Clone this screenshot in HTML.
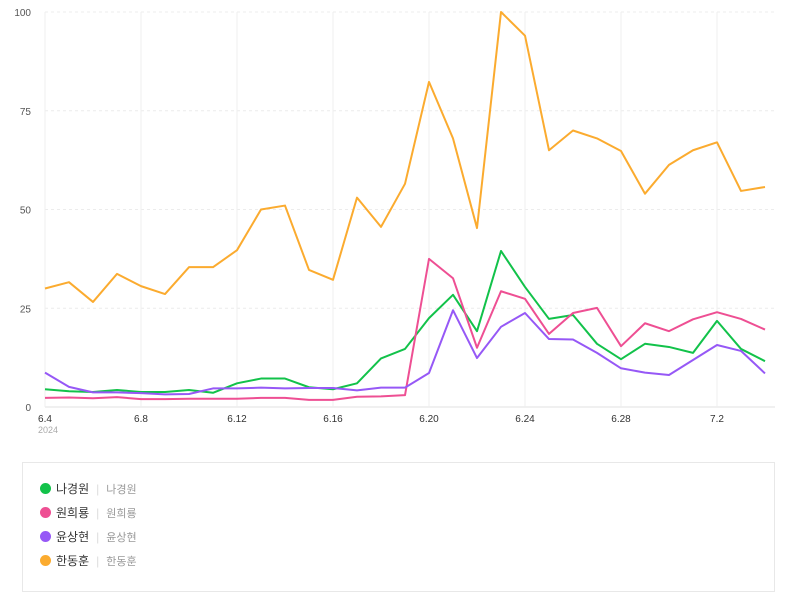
<!DOCTYPE html>
<html><head><meta charset="utf-8"><style>
body{margin:0;width:791px;height:578px;background:#fff;font-family:"Liberation Sans","Noto Sans CJK KR",sans-serif;overflow:hidden;position:relative}
#legend{position:absolute;left:22px;top:462px;width:753px;height:130px;border:1px solid #e8e8e8;box-sizing:border-box}
.le{position:absolute;left:17px;font-size:12px;color:#333;display:flex;align-items:center}
.dot{width:11px;height:11px;border-radius:50%;margin-right:5px}
.sep{color:#ddd;margin:0 7px}
.sub{color:#999;font-size:11px}
</style></head><body>
<svg id="chart" width="791" height="460" style="position:absolute;left:0;top:0"></svg>
<div id="legend">
<div class="le" style="top:17px"><span class="dot" style="background:#12c24a"></span>나경원<span class="sep">|</span><span class="sub">나경원</span></div>
<div class="le" style="top:41px"><span class="dot" style="background:#ee4f93"></span>원희룡<span class="sep">|</span><span class="sub">원희룡</span></div>
<div class="le" style="top:65px"><span class="dot" style="background:#9658f6"></span>윤상현<span class="sep">|</span><span class="sub">윤상현</span></div>
<div class="le" style="top:89px"><span class="dot" style="background:#fbab2f"></span>한동훈<span class="sep">|</span><span class="sub">한동훈</span></div>
</div>
<script>
const categories=["6.4","6.5","6.6","6.7","6.8","6.9","6.10","6.11","6.12","6.13","6.14","6.15","6.16","6.17","6.18","6.19","6.20","6.21","6.22","6.23","6.24","6.25","6.26","6.27","6.28","6.29","6.30","7.1","7.2","7.3","7.4"];
const han=[30,31.6,26.6,33.7,30.6,28.6,35.4,35.4,39.7,50,51,34.7,32.2,53,45.6,56.5,82.3,68,45.3,100,94,65,70,68,64.8,54,61.3,65,67,54.7,55.7];
const na=[4.5,4,3.8,4.3,3.8,3.8,4.3,3.6,6,7.2,7.2,5,4.5,6,12.3,14.7,22.5,28.4,19.2,39.5,30.4,22.3,23.3,16,12.1,16,15.2,13.7,21.8,14.7,11.6];
const won=[2.3,2.4,2.2,2.5,2,2,2.1,2.1,2.1,2.3,2.3,1.8,1.8,2.6,2.7,3,37.5,32.6,15,29.3,27.4,18.5,23.8,25.1,15.4,21.2,19.2,22.2,24,22.3,19.6];
const yoon=[8.7,5.1,3.7,3.7,3.5,3.2,3.3,4.7,4.7,4.9,4.7,4.8,4.8,4.2,4.9,4.9,8.6,24.5,12.4,20.3,23.8,17.2,17.1,13.7,9.8,8.7,8.1,11.9,15.7,14.2,8.5];
const yTicks=[0,25,50,75,100];
const xTickIdx=[0,4,8,12,16,20,24,28];
const NS="http://www.w3.org/2000/svg";
const svg=document.getElementById('chart');
const X=i=>45+i*24, Y=v=>407-v*3.95;
function mk(t,a){const e=document.createElementNS(NS,t);for(const k in a)e.setAttribute(k,a[k]);svg.appendChild(e);return e;}
yTicks.forEach(v=>{
 const l=mk('line',{x1:45,x2:775,y1:Y(v),y2:Y(v),stroke:v?'#ececec':'#e0e0e0','stroke-dasharray':v?'3,3':''});
 
 
 const t=mk('text',{x:31,y:Y(v)+4,'text-anchor':'end','font-size':10,fill:'#555'});t.textContent=v;
 
 
});
xTickIdx.forEach(i=>{
 const l=mk('line',{x1:X(i),x2:X(i),y1:12,y2:407,stroke:'#efefef'});
 
 
 const t=mk('text',{x:X(i),y:422,'text-anchor':'middle','font-size':10,fill:'#333'});t.textContent=categories[i];
 
 
});
const yr=mk('text',{x:38,y:433,'font-size':9,fill:'#aaa'});yr.textContent='2024';


[[han,'#fbab2f','series-han'],[na,'#12c24a','series-na'],[won,'#ee4f93','series-won'],[yoon,'#9658f6','series-yoon']].forEach(([d,c,n])=>{
 const p=mk('polyline',{points:d.map((v,i)=>X(i)+','+Y(v)).join(' '),fill:'none',stroke:c,'stroke-width':2,'stroke-linejoin':'round'});
 
 
});
</script>
</body></html>
